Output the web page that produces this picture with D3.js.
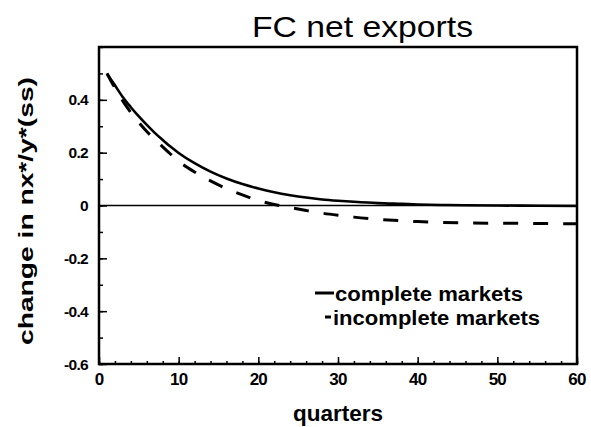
<!DOCTYPE html>
<html>
<head>
<meta charset="utf-8">
<script src="https://cdn.jsdelivr.net/npm/d3@7"></script>
<style>
  html, body { margin: 0; padding: 0; background: #fff; }
  svg { display: block; }
  text { font-family: "Liberation Sans", Arial, Helvetica, sans-serif; fill: #000; }
</style>
</head>
<body>
<svg id="chart" width="591" height="427"></svg>
<script>
// ---- data ----
const quarters = [1,2,3,4,5,6,7,8,9,10,12,14,16,18,20,22,24,26,28,30,32,35,38,40,43,46,50,55,60];
const completeMarkets = [0.50,0.455,0.41,0.372,0.337,0.305,0.275,0.248,0.222,0.199,0.16,0.128,0.102,0.081,0.064,0.05,0.039,0.03,0.023,0.018,0.014,0.009,0.006,0.004,0.002,0.001,0.0,-0.001,-0.002];
const incompleteMarkets = [0.50,0.445,0.395,0.352,0.314,0.28,0.25,0.222,0.194,0.168,0.127,0.093,0.064,0.04,0.019,0.004,-0.008,-0.019,-0.029,-0.037,-0.044,-0.052,-0.058,-0.061,-0.064,-0.066,-0.067,-0.068,-0.069];
const xTicks = [0,10,20,30,40,50,60];
const xMinorTicks = d3.range(0, 61, 2);
const yTicks = [-0.6,-0.4,-0.2,0,0.2,0.4];
const yMinorTicks = d3.range(-6, 7, 1).map(d => d / 10);
const yTickLabels = ["-0.6","-0.4","-0.2","0","0.2","0.4"];
const titleText = "FC net exports";
const xLabel = "quarters";
const yLabel = "change in nx*/y*(ss)";
const legendLabels = ["complete markets", "incomplete markets"];

// ---- layout ----
const L = 99, R = 577, T = 47, B = 364;
const svg = d3.select("#chart");
const x = d3.scaleLinear().domain([0, 60]).range([L, R]);
const y = d3.scaleLinear().domain([-0.6, 0.6]).range([B, T]);

// minor + major ticks (inside)
const gx = svg.append("g").attr("transform", `translate(0,${B})`);
gx.call(d3.axisTop(x).tickValues(xMinorTicks).tickSize(3).tickFormat(""))
  .call(g => g.select(".domain").remove());
gx.append("g").call(d3.axisTop(x).tickValues(xTicks).tickSize(7).tickFormat(""))
  .call(g => g.select(".domain").remove());
gx.selectAll("line").attr("stroke", "#000").attr("stroke-width", 1.5);

const gy = svg.append("g").attr("transform", `translate(${L},0)`);
gy.call(d3.axisRight(y).tickValues(yMinorTicks).tickSize(4).tickFormat(""))
  .call(g => g.select(".domain").remove());
gy.append("g").call(d3.axisRight(y).tickValues(yTicks).tickSize(8).tickFormat(""))
  .call(g => g.select(".domain").remove());
gy.selectAll("line").attr("stroke", "#000").attr("stroke-width", 1.5);

// tick labels
svg.append("g").selectAll("text").data(xTicks).join("text")
  .attr("x", d => x(d)).attr("y", 385)
  .attr("text-anchor", "middle")
  .attr("font-size", 17).attr("font-weight", "bold")
  .attr("letter-spacing", -0.8)
  .text(d => d);

svg.append("g").selectAll("text").data(yTicks).join("text")
  .attr("x", 88).attr("y", d => y(d) + 5.5)
  .attr("text-anchor", "end")
  .attr("font-size", 15.5).attr("font-weight", "bold")
  .attr("letter-spacing", -0.7)
  .text((d, i) => yTickLabels[i]);

// zero line
svg.append("line")
  .attr("x1", x(0)).attr("x2", x(60))
  .attr("y1", y(0)).attr("y2", y(0))
  .attr("stroke", "#000").attr("stroke-width", 1.5);

// series
const pts1 = quarters.map((q, i) => [q, completeMarkets[i]]);
const pts2 = quarters.map((q, i) => [q, incompleteMarkets[i]]);
const line = d3.line().x(d => x(d[0])).y(d => y(d[1])).curve(d3.curveMonotoneX);

svg.append("path").datum(pts2)
  .attr("d", line).attr("fill", "none")
  .attr("stroke", "#000").attr("stroke-width", 3)
  .attr("stroke-dasharray", "15,15");

svg.append("path").datum(pts1)
  .attr("d", line).attr("fill", "none")
  .attr("stroke", "#000").attr("stroke-width", 2.6);

// frame
svg.append("rect")
  .attr("x", L).attr("y", T).attr("width", R - L).attr("height", B - T)
  .attr("fill", "none").attr("stroke", "#000").attr("stroke-width", 2.5);

// title
svg.append("text")
  .attr("x", 252).attr("y", 37)
  .attr("font-size", 29)
  .attr("textLength", 221).attr("lengthAdjust", "spacingAndGlyphs")
  .text(titleText);

// x label
svg.append("text")
  .attr("x", 293).attr("y", 421)
  .attr("font-size", 22).attr("font-weight", "bold")
  .attr("textLength", 90).attr("lengthAdjust", "spacingAndGlyphs")
  .text(xLabel);

// y label
svg.append("text")
  .attr("transform", "translate(33,345) rotate(-90)")
  .attr("font-size", 20).attr("font-weight", "bold")
  .attr("textLength", 268).attr("lengthAdjust", "spacingAndGlyphs")
  .text(yLabel);

// legend
svg.append("line")
  .attr("x1", 315).attr("x2", 334).attr("y1", 293).attr("y2", 293)
  .attr("stroke", "#000").attr("stroke-width", 3);
svg.append("text")
  .attr("x", 335).attr("y", 301)
  .attr("font-size", 20).attr("font-weight", "bold")
  .attr("textLength", 188).attr("lengthAdjust", "spacingAndGlyphs")
  .text(legendLabels[0]);
svg.append("line")
  .attr("x1", 325).attr("x2", 331).attr("y1", 317).attr("y2", 317)
  .attr("stroke", "#000").attr("stroke-width", 3);
svg.append("text")
  .attr("x", 333).attr("y", 325)
  .attr("font-size", 20).attr("font-weight", "bold")
  .attr("textLength", 207).attr("lengthAdjust", "spacingAndGlyphs")
  .text(legendLabels[1]);
</script>
</body>
</html>
